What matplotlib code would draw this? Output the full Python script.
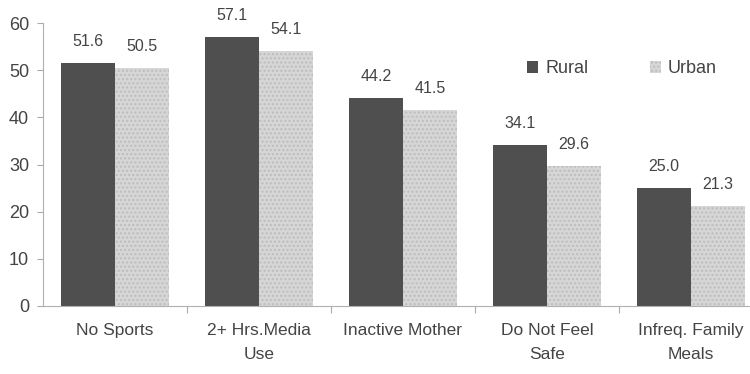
import matplotlib
matplotlib.use("Agg")
import matplotlib.pyplot as plt
import numpy as np

plt.rcParams['font.family'] = ['Liberation Sans', 'DejaVu Sans']
plt.rcParams['hatch.color'] = '#bdbdbd'

categories = ['No Sports', '2+ Hrs.Media\nUse', 'Inactive Mother', 'Do Not Feel\nSafe', 'Infreq. Family\nMeals']
rural = [51.6, 57.1, 44.2, 34.1, 25.0]
urban = [50.5, 54.1, 41.5, 29.6, 21.3]

fig = plt.figure(figsize=(7.5, 3.74), dpi=100)
ax = fig.add_axes([43 / 750, 68 / 374, 720 / 750, 283 / 374])

x = np.arange(len(categories))
w = 0.375
rural_color = '#4f4f4f'
urban_color = '#d6d6d6'

ax.bar(x - w / 2, rural, w, color=rural_color, label='Rural')
ax.bar(x + w / 2, urban, w, color=urban_color, linewidth=0, hatch='....', label='Urban')

for i in range(len(categories)):
    ax.annotate(f'{rural[i]:.1f}', (x[i] - w / 2, rural[i]), xytext=(0, 10),
                textcoords='offset points', ha='center', va='bottom', fontsize=11.5, color='#444444')
    ax.annotate(f'{urban[i]:.1f}', (x[i] + w / 2, urban[i]), xytext=(0, 10),
                textcoords='offset points', ha='center', va='bottom', fontsize=11.5, color='#444444')

ax.set_xlim(-0.5, len(categories) - 0.5)
ax.set_ylim(0, 60)
ax.set_yticks(range(0, 61, 10))
ax.tick_params(axis='y', labelsize=13, colors='#aaaaaa', labelcolor='#444444', length=4, pad=6)

ax.set_xticks(np.arange(0.5, len(categories) - 0.5, 1))
ax.set_xticklabels([])
ax.set_xticks(x, minor=True)
ax.set_xticklabels(categories, minor=True, fontsize=12.5, color='#444444', linespacing=1.8)
ax.tick_params(axis='x', which='major', length=5, colors='#aaaaaa')
ax.tick_params(axis='x', which='minor', length=0, pad=12)

for s in ['top', 'right']:
    ax.spines[s].set_visible(False)
ax.spines['left'].set_color('#b0b0b0')
ax.spines['bottom'].set_color('#b0b0b0')

leg = ax.legend(loc='upper left', bbox_to_anchor=(468 / 720, 0.925), ncol=2, frameon=False,
                fontsize=13, handlelength=0.6, handleheight=0.6, columnspacing=3.4,
                handletextpad=0.4)
for t in leg.get_texts():
    t.set_color('#444444')

fig.savefig('out.png', dpi=100)
